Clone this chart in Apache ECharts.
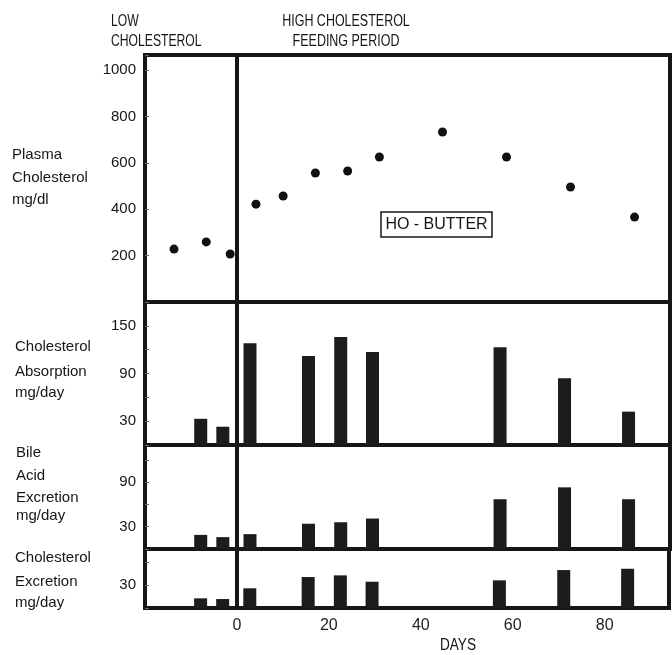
<!DOCTYPE html>
<html><head><meta charset="utf-8">
<script src="https://cdn.jsdelivr.net/npm/echarts@6/dist/echarts.min.js"></script>
<style>html,body{margin:0;padding:0;background:#fff}#c{width:672px;height:655px}</style>
</head><body><div id="c"></div>
<script>
// ---- data ----
const plasmaDays = [-13.7, -6.7, -1.5, 4.1, 10, 17, 24, 30.9, 44.6, 58.5, 72.4, 86.3];
const plasmaValues = [228, 259, 207, 422, 457, 556, 565, 625, 733, 625, 496, 366];
const sampleDays = [-7.9, -3.1, 2.8, 15.5, 22.5, 29.4, 57.1, 71.1, 85.0];
const absorption = [33, 23, 128, 112, 136, 117, 123, 84, 42];
const bileAcid = [19, 16, 20, 34, 36, 41, 67, 83, 67];
const cholExcretion = [12.6, 11.7, 25.7, 40.4, 42.6, 34.3, 36.1, 49.5, 51.2];
const xTickLabels = [0, 20, 40, 60, 80];
const plasmaTicks = [200, 400, 600, 800, 1000];
const absorptionTicks = [30, 90, 150];
const bileTicks = [30, 90];
const exclTicks = [30];

const INK = '#161616';
const FONT = "'Liberation Sans', 'DejaVu Sans', sans-serif";
const chart = echarts.init(document.getElementById('c'), null, {renderer: 'canvas'});

const grids = [
  {top: 55, height: 247},
  {top: 302, height: 143},
  {top: 445, height: 104},
  {top: 549, height: 59}
].map(g => Object.assign({left: 145, right: 2, show: true, borderColor: INK, borderWidth: 4, backgroundColor: '#fff'}, g));

const xAxes = grids.map((g, i) => ({
  type: 'value', gridIndex: i, min: -20, max: 94, interval: 20,
  axisLine: {show: false, onZero: false}, axisTick: {show: false}, splitLine: {show: false},
  axisLabel: {show: i === 3, fontSize: 16, color: '#222', fontFamily: FONT, margin: 10,
    formatter: v => xTickLabels.includes(v) ? String(v) : ''}
}));

function yAx(i, max, interval, labels) {
  return {
    type: 'value', gridIndex: i, min: 0, max: max, interval: interval,
    axisLine: {show: false, onZero: false}, splitLine: {show: false},
    axisTick: {show: true, inside: true, length: 4, lineStyle: {color: '#666', width: 1}},
    axisLabel: {fontSize: 15, color: INK, fontFamily: FONT, margin: 9,
      formatter: v => labels.includes(v) ? String(v) : ''}
  };
}
const yAxes = [
  yAx(0, 1065, 200, plasmaTicks),
  yAx(1, 180, 30, absorptionTicks),
  yAx(2, 140, 30, bileTicks),
  yAx(3, 77, 30, exclTicks)
];

const zeroLine = {silent: true, symbol: 'none', label: {show: false},
  lineStyle: {color: INK, width: 4, type: 'solid'}, data: [{xAxis: 0}]};

function barSeries(i, vals) {
  return {type: 'bar', xAxisIndex: i, yAxisIndex: i, barWidth: 13,
    itemStyle: {color: '#1c1c1c'},
    data: sampleDays.map((d, k) => [d, vals[k]]), markLine: zeroLine};
}

const series = [
  {type: 'scatter', xAxisIndex: 0, yAxisIndex: 0, symbolSize: 9,
    itemStyle: {color: '#111', opacity: 1},
    data: plasmaDays.map((d, k) => [d, plasmaValues[k]]), markLine: zeroLine},
  barSeries(1, absorption),
  barSeries(2, bileAcid),
  barSeries(3, cholExcretion)
];

function txt(x, y, s, size, align, sx) {
  return {type: 'text', x: x, y: y, scaleX: sx || 1,
    style: {text: s, fill: INK, font: (size || 15) + 'px ' + FONT, textAlign: align || 'left', textVerticalAlign: 'middle'}};
}
const graphic = [
  txt(111, 22, 'LOW', 16, 'left', 0.76), txt(111, 42, 'CHOLESTEROL', 16, 'left', 0.76),
  txt(346, 22, 'HIGH CHOLESTEROL', 16, 'center', 0.78), txt(346, 42, 'FEEDING PERIOD', 16, 'center', 0.78),
  txt(12, 155, 'Plasma'), txt(12, 178, 'Cholesterol'), txt(12, 200, 'mg/dl'),
  txt(15, 347, 'Cholesterol'), txt(15, 372, 'Absorption'), txt(15, 393, 'mg/day'),
  txt(16, 453, 'Bile'), txt(16, 476, 'Acid'), txt(16, 498, 'Excretion'), txt(16, 516, 'mg/day'),
  txt(15, 558, 'Cholesterol'), txt(15, 582, 'Excretion'), txt(15, 603, 'mg/day'),
  txt(458, 646, 'DAYS', 16, 'center', 0.85),
  {type: 'rect', x: 381, y: 212, shape: {width: 111, height: 25}, style: {fill: '#fff', stroke: INK, lineWidth: 1.5}},
  txt(436.5, 225, 'HO - BUTTER', 16, 'center')
];

chart.setOption({
  animation: false,
  backgroundColor: '#fff',
  grid: grids, xAxis: xAxes, yAxis: yAxes, series: series, graphic: graphic
});
</script></body></html>
